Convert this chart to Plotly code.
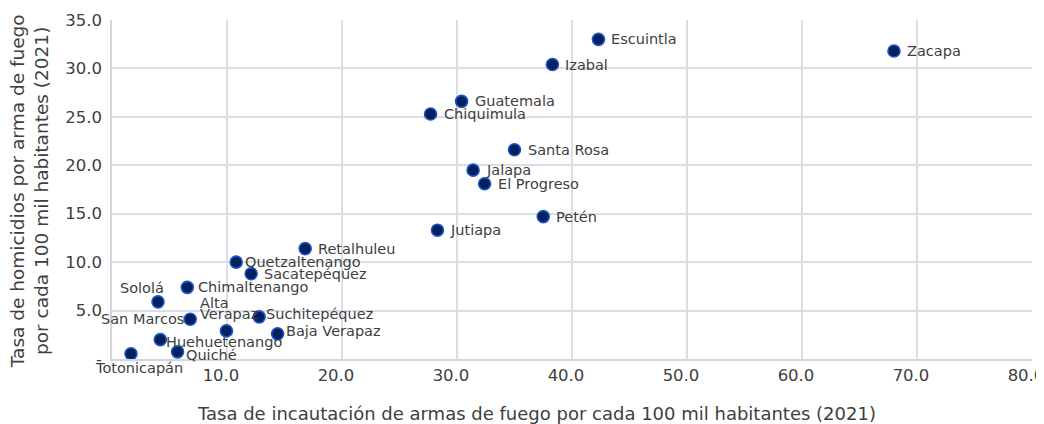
import plotly.graph_objects as go

departments = ["Zacapa", "Escuintla", "Izabal", "Guatemala", "Chiquimula", "Santa Rosa",
               "Jalapa", "El Progreso", "Petén", "Jutiapa", "Retalhuleu", "Quetzaltenango",
               "Sacatepéquez", "Chimaltenango", "Sololá", "San Marcos", "Suchitepéquez",
               "Alta Verapaz", "Baja Verapaz", "Huehuetenango", "Quiché", "Totonicapán"]
seizure_rate = [68.0, 42.3, 38.3, 30.4, 27.7, 35.0,
                31.4, 32.4, 37.5, 28.3, 16.8, 10.8,
                12.1, 6.55, 4.0, 6.8, 12.8,
                9.95, 14.4, 4.2, 5.7, 1.65]
homicide_rate = [31.8, 33.0, 30.4, 26.6, 25.3, 21.6,
                 19.5, 18.1, 14.7, 13.3, 11.4, 10.0,
                 8.8, 7.4, 5.9, 4.1, 4.35,
                 2.9, 2.6, 2.0, 0.74, 0.54]

x_ticks = [10, 20, 30, 40, 50, 60, 70, 80]
x_ticktext = ["10.0", "20.0", "30.0", "40.0", "50.0", "60.0", "70.0", "80.0"]
y_ticks = [0, 5, 10, 15, 20, 25, 30, 35]
y_ticktext = ["-", "5.0", "10.0", "15.0", "20.0", "25.0", "30.0", "35.0"]

x_title = "Tasa de incautación de armas de fuego por cada 100 mil habitantes (2021)"
y_title = "Tasa de homicidios por arma de fuego<br>por cada 100 mil habitantes (2021)"

# label placement (style only): list of (text or None, xanchor, yanchor, xshift, yshift)
label_style = {
    "Quetzaltenango": [(None, "left", "middle", 8, 0)],
    "Chimaltenango": [(None, "left", "middle", 10, 0)],
    "Suchitepéquez": [(None, "left", "middle", 6, 3)],
    "Baja Verapaz": [(None, "left", "middle", 7, 3)],
    "Huehuetenango": [(None, "left", "middle", 5, -2)],
    "Quiché": [(None, "left", "middle", 7, -3)],
    "San Marcos": [(None, "right", "middle", -5, 0)],
    "Sololá": [(None, "center", "middle", -16, 14)],
    "Alta Verapaz": [("Alta", "left", "middle", -27, 28),
                     ("Verapaz", "left", "middle", -27, 17)],
    "Totonicapán": [(None, "center", "middle", 8, -14)],
}
default_style = [(None, "left", "middle", 12, 0)]

FONT = "DejaVu Sans"
TXT = "#404040"

fig = go.Figure()
fig.add_trace(go.Scatter(
    x=seizure_rate, y=homicide_rate, mode="markers",
    marker=dict(size=12, color="#00215e", line=dict(width=1.6, color="#1f52c4")),
    hoverinfo="text", text=departments, showlegend=False,
))

annotations = []
for name, xv, yv in zip(departments, seizure_rate, homicide_rate):
    for txt, xa, ya, dx, dy in label_style.get(name, default_style):
        annotations.append(dict(
            x=xv, y=yv, xref="x", yref="y", text=txt or name, showarrow=False,
            xanchor=xa, yanchor=ya, xshift=dx, yshift=dy, align="left",
            font=dict(family=FONT, size=14.5, color=TXT), borderpad=0,
        ))

# axis titles
annotations.append(dict(
    x=0.0899, y=0, xref="paper", yref="paper", text=x_title, showarrow=False,
    xanchor="left", yanchor="middle", yshift=-54,
    font=dict(family=FONT, size=18, color=TXT),
))
annotations.append(dict(
    x=0, y=0.495, xref="paper", yref="paper", text=y_title, showarrow=False,
    xanchor="center", yanchor="middle", xshift=-83, textangle=-90,
    font=dict(family=FONT, size=18.5, color=TXT),
))

# page body has an 8px margin: the figure is sized to fit the 1044x424 window
fig.update_layout(
    width=1036, height=416,
    margin=dict(l=104, r=12, t=12, b=65),
    paper_bgcolor="white", plot_bgcolor="white",
    font=dict(family=FONT, color=TXT),
    annotations=annotations,
    xaxis=dict(
        range=[0, 80], tickvals=x_ticks, ticktext=x_ticktext,
        showgrid=True, gridcolor="#d9dee7", gridwidth=1.5,
        showline=True, linecolor="#d0d6e0", linewidth=1.5,
        zeroline=False, ticks="", ticklabelstandoff=0, ticklabelshift=-6,
        ticklabeloverflow="allow",
        tickfont=dict(family=FONT, size=16.5, color=TXT),
        automargin=False, fixedrange=True,
    ),
    yaxis=dict(
        range=[0, 35], tickvals=y_ticks, ticktext=y_ticktext,
        showgrid=True, gridcolor="#d9dee7", gridwidth=1.5,
        showline=True, linecolor="#d0d6e0", linewidth=1.5,
        zeroline=False, ticks="", ticklabelstandoff=5,
        tickfont=dict(family=FONT, size=16.5, color=TXT),
        automargin=False, fixedrange=True,
    ),
)

fig.write_html("out.html")
